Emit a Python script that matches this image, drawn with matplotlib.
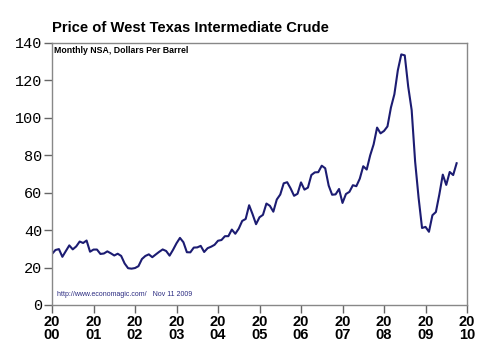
import numpy as np
import matplotlib.pyplot as plt

# monthly WTI spot price, Jan 2000 - Oct 2009 (dollars per barrel)
p2000 = [27.26, 29.37, 29.84, 25.72, 28.79, 31.82, 29.70, 31.26, 33.88, 33.11, 34.42, 28.44]
p2001 = [29.59, 29.61, 27.25, 27.49, 28.63, 27.60, 26.43, 27.37, 26.20, 22.17, 19.64, 19.39]
p2002 = [19.72, 20.72, 24.53, 26.18, 27.04, 25.52, 26.97, 28.39, 29.66, 28.84, 26.35, 29.46]
p2003 = [32.95, 35.83, 33.51, 28.17, 28.11, 30.66, 30.75, 31.57, 28.31, 30.34, 31.11, 32.13]
p2004 = [34.31, 34.69, 36.74, 36.75, 40.28, 38.03, 40.78, 44.90, 45.94, 53.28, 48.47, 43.15]
p2005 = [46.84, 48.15, 54.19, 52.98, 49.83, 56.35, 59.00, 64.99, 65.59, 62.26, 58.32, 59.41]
p2006 = [65.49, 61.63, 62.69, 69.44, 70.84, 70.95, 74.41, 73.04, 63.80, 58.89, 59.08, 61.96]
p2007 = [54.51, 59.28, 60.44, 63.98, 63.46, 67.49, 74.12, 72.36, 79.92, 85.80, 94.77, 91.69]
p2008 = [92.97, 95.39, 105.45, 112.58, 125.40, 133.88, 133.37, 116.67, 104.11, 76.61, 57.31, 41.12]
p2009 = [41.71, 39.09, 47.94, 49.65, 59.03, 69.64, 64.15, 71.05, 69.41, 75.72]

prices = p2000 + p2001 + p2002 + p2003 + p2004 + p2005 + p2006 + p2007 + p2008 + p2009
t = 2000 + np.arange(len(prices)) / 12.0

years = list(range(2000, 2011))
year_labels = [f"{str(y)[:2]}\n{str(y)[2:]}" for y in years]
y_ticks = [0, 20, 40, 60, 80, 100, 120, 140]

sans = 'Liberation Sans'

fig = plt.figure(figsize=(5, 3.55), dpi=100)
ax = fig.add_axes([0.104, 0.141, 0.830, 0.738])

ax.plot(t, prices, color='#1c1c72', lw=1.5)

ax.set_xlim(2000, 2010)
ax.set_ylim(0, 140)
ax.set_xticks(years)
ax.set_xticklabels(year_labels, fontsize=10.5, fontweight='bold',
                   family=sans, linespacing=0.9)
ax.set_yticks(y_ticks)
ax.set_yticklabels([str(v) for v in y_ticks], fontsize=11, family='Liberation Mono')

for s in ax.spines.values():
    s.set_color('#888888')
    s.set_linewidth(1.0)
ax.tick_params(axis='both', color='#666666', length=6, width=1, pad=1)

fig.text(0.104, 0.91, "Price of West Texas Intermediate Crude", fontsize=10.6,
         fontweight='bold', family=sans)
ax.text(0.006, 0.99, "Monthly NSA, Dollars Per Barrel", transform=ax.transAxes,
        fontsize=6.3, fontweight='bold', va='top', ha='left', family=sans)
ax.text(0.012, 0.025, "http://www.economagic.com/   Nov 11 2009", transform=ax.transAxes,
        fontsize=5, color='#2a2a80', va='bottom', ha='left', family=sans)

fig.savefig('out.png', dpi=100)
